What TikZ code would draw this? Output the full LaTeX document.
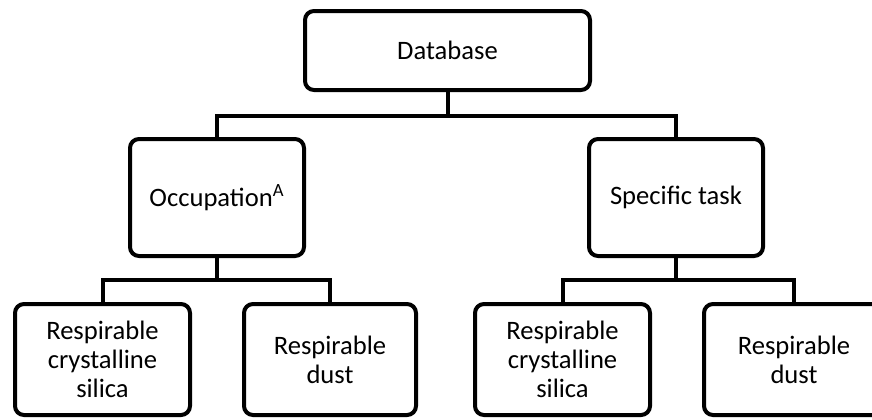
\documentclass[tikz,border=0pt]{standalone}
\usepackage{fontspec}
\setmainfont{Carlito}
\begin{document}
\begin{tikzpicture}[x=0.5pt,y=-0.5pt,
  box/.style={draw=black, line width=2pt, rounded corners=4.5pt, fill=white,
    inner sep=0pt, align=center, font=\fontsize{13.3}{14.4}\selectfont},
  conn/.style={draw=black, line width=2pt, line join=miter}]
\useasboundingbox (0,0) rectangle (872,419);
\clip (0,0) rectangle (872,419);
\node[box, minimum width=142.5pt, minimum height=39.5pt] (db) at (447.5,50.5) {Database};
\node[box, minimum width=87pt, minimum height=58.5pt] (occ) at (217,197.5) {Occupation\textsuperscript{A}};
\node[box, minimum width=87pt, minimum height=58.5pt] (spec) at (676,197.5) {Specific task};
\node[box, minimum width=87.5pt, minimum height=55.5pt] (b1) at (102.5,359.5) {Respirable\\crystalline\\silica};
\node[box, minimum width=86pt, minimum height=55.5pt] (b2) at (330,359.5) {Respirable\\dust};
\node[box, minimum width=87.5pt, minimum height=55.5pt] (b3) at (562.5,359.5) {Respirable\\crystalline\\silica};
\node[box, minimum width=90pt, minimum height=55.5pt] (b4) at (794,359.5) {Respirable\\dust};
\coordinate (j1) at (447.5,116);
\coordinate (j2) at (217,280);
\coordinate (j3) at (676,280);
\draw[conn] (db.south) -- (j1);
\draw[conn] (occ.north) |- (j1) -| (spec.north);
\draw[conn] (occ.south) -- (j2);
\draw[conn] (b1.north) |- (j2) -| (b2.north);
\draw[conn] (spec.south) -- (j3);
\draw[conn] (b3.north) |- (j3) -| (b4.north);
\end{tikzpicture}
\end{document}
